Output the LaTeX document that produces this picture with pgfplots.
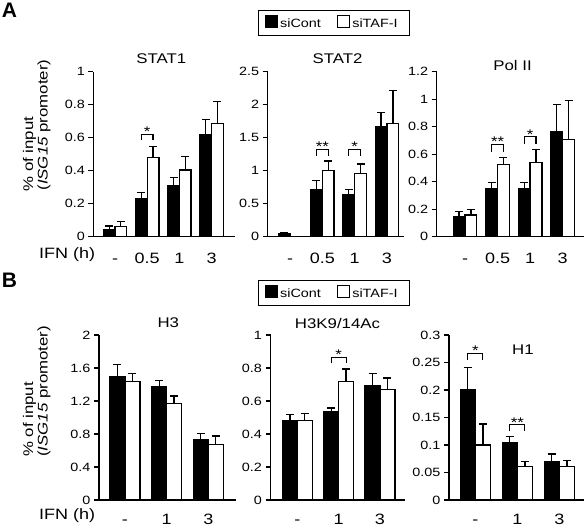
\documentclass[border=0pt]{standalone}
\usepackage{fontspec}
\setmainfont{Liberation Sans}[FakeStretch=1.2]
\newfontfamily\plainfont{Liberation Sans}
\usepackage{pgfplots}
\usepackage{pgfplotstable}
\pgfplotsset{compat=1.18}
\newcommand{\fs}[1]{\fontsize{#1bp}{#1bp}\selectfont}

\pgfplotstableread{
x c ce t te
0 0.040 0.025 0.060 0.033
1 0.232 0.037 0.481 0.066
2 0.307 0.053 0.404 0.081
3 0.616 0.095 0.687 0.131
}\statone
\pgfplotstableread{
x c ce t te
0 0.050 0.015 0.000 0.000
1 0.710 0.140 1.000 0.145
2 0.630 0.090 0.960 0.140
3 1.660 0.220 1.720 0.490
}\stattwo
\pgfplotstableread{
x c ce t te
0 0.145 0.040 0.157 0.040
1 0.350 0.045 0.525 0.050
2 0.350 0.045 0.540 0.095
3 0.765 0.195 0.705 0.285
}\polii
\pgfplotstableread{
x c ce t te
0 1.495 0.150 1.435 0.100
1 1.380 0.070 1.170 0.090
2 0.735 0.075 0.675 0.100
}\hthree
\pgfplotstableread{
x c ce t te
0 0.480 0.040 0.480 0.043
1 0.535 0.022 0.720 0.074
2 0.695 0.070 0.670 0.070
}\hac
\pgfplotstableread{
x c ce t te
0 0.200 0.041 0.100 0.038
1 0.104 0.011 0.061 0.0096
2 0.070 0.0135 0.0615 0.0098
}\hone

\tikzset{brk/.style={line width=1.1bp, black}}
\pgfplotsset{
  panel/.style={
    scale only axis, anchor=south west, clip=false,
    axis x line*=bottom, axis y line*=left,
    axis line style={line width=1.4bp, black, -},
    ymin=0, enlargelimits=false,
    major x tick style={draw=none},
    tick align=outside, major tick length=5bp,
    major y tick style={line width=1.3bp, black},
    yticklabel style={font=\fs{12}, /pgf/number format/fixed,
      /pgf/number format/precision=2, /pgf/number format/assume math mode=true},
    scaled y ticks=false,
    xticklabel style={font=\fs{15}, anchor=base},
    ybar=0pt,
    error bars/y dir=plus, error bars/y explicit,
    error bars/error bar style={line width=1.3bp, black},
    error bars/error mark options={rotate=90, line width=1.3bp, black, mark size=4bp},
    title style={font=\fs{14}, anchor=base},
  },
  rowA/.style={panel, height=165bp, xtick={0,1,2,3}, xticklabels={-,0.5,1,3},
    bar width=0.362, xticklabel style={yshift=-21.5bp}},
  rowB/.style={panel, height=165bp, xtick={0,1,2}, xticklabels={-,1,3},
    bar width=0.36, xticklabel style={yshift=-19.5bp}},
  cont/.style={fill=black, draw=black, line width=1.3bp},
  taf/.style={fill=white, draw=black, line width=1.3bp},
  sqleg/.style={legend image code/.code={\draw[##1, line width=0.9bp] (0bp,-3.5bp) rectangle (12.5bp,8.5bp);}},
  leg/.style={legend columns=2,
    legend style={draw=black, line width=0.9bp, anchor=north west, font=\fs{12},
      inner xsep=6bp, inner ysep=4.5bp,
      /tikz/every even column/.append style={column sep=10bp}}},
}

\begin{document}
\begin{tikzpicture}
\useasboundingbox (0,0) rectangle (586bp,529bp);

% ---------------- Panel A ----------------
\begin{axis}[rowA, at={(93.3bp,292.3bp)}, width=141.7bp,
  xmin=-0.674, xmax=3.727, ymax=1, ytick={0,0.2,...,1},
  title={STAT1}, title style={at={(0.48,1.0145)}}]
\addplot[cont] table[x=x,y=c,y error=ce]{\statone};
\addplot[taf] table[x=x,y=t,y error=te]{\statone};
\draw[brk] (axis cs:0.819,0.586) -- (axis cs:0.819,0.622) -- (axis cs:1.181,0.622) -- (axis cs:1.181,0.586);
\node[font=\fs{14}, anchor=base, inner sep=0, yshift=-2.5bp] at (axis cs:1,0.622) {*};
\end{axis}

\begin{axis}[rowA, at={(267.7bp,292.3bp)}, width=136.3bp,
  xmin=-0.69, xmax=3.526, ymax=2.5, ytick={0,0.5,...,2.5},
  title={STAT2}, title style={at={(0.512,1.0145)}},
  leg, legend style={at={(-0.069,1.374)}}]
\addplot[cont, sqleg] table[x=x,y=c,y error=ce]{\stattwo};
\addplot[taf, sqleg] table[x=x,y=t,y error=te]{\stattwo};
\legend{siCont\kern4bp, siTAF-I\kern4bp}
\draw[brk] (axis cs:0.819,1.222) -- (axis cs:0.819,1.324) -- (axis cs:1.181,1.324) -- (axis cs:1.181,1.222);
\node[font=\fs{14}, anchor=base, inner sep=0, yshift=-2.5bp] at (axis cs:1,1.324) {**};
\draw[brk] (axis cs:1.819,1.222) -- (axis cs:1.819,1.324) -- (axis cs:2.181,1.324) -- (axis cs:2.181,1.222);
\node[font=\fs{14}, anchor=base, inner sep=0, yshift=-2.5bp] at (axis cs:2,1.324) {*};
\end{axis}

\begin{axis}[rowA, at={(436.7bp,292.3bp)}, width=147.3bp,
  xmin=-0.869, xmax=3.654, ymax=1.2, ytick={0,0.2,...,1.2},
  title={Pol II}, title style={at={(0.515,0.97)}}]
\addplot[cont] table[x=x,y=c,y error=ce]{\polii};
\addplot[taf] table[x=x,y=t,y error=te]{\polii};
\draw[brk] (axis cs:0.819,0.618) -- (axis cs:0.819,0.672) -- (axis cs:1.181,0.672) -- (axis cs:1.181,0.618);
\node[font=\fs{14}, anchor=base, inner sep=0, yshift=-2.5bp] at (axis cs:1,0.672) {**};
\draw[brk] (axis cs:1.819,0.674) -- (axis cs:1.819,0.727) -- (axis cs:2.181,0.727) -- (axis cs:2.181,0.674);
\node[font=\fs{14}, anchor=base, inner sep=0, yshift=-2.5bp] at (axis cs:2,0.727) {*};
\end{axis}

% ---------------- Panel B ----------------
\begin{axis}[rowB, at={(99bp,29bp)}, width=137bp,
  xmin=-0.624, xmax=2.665, ymax=2, ytick={0,0.4,...,2},
  title={H3}, title style={at={(0.506,1.01)}}]
\addplot[cont] table[x=x,y=c,y error=ce]{\hthree};
\addplot[taf] table[x=x,y=t,y error=te]{\hthree};
\end{axis}

\begin{axis}[rowB, at={(270.5bp,29bp)}, width=134.5bp,
  xmin=-0.648, xmax=2.605, ymax=1, ytick={0,0.2,...,1},
  title={H3K9/14Ac}, title style={at={(0.498,1.006)}},
  leg, legend style={at={(-0.0907,1.333)}}]
\addplot[cont, sqleg] table[x=x,y=c,y error=ce]{\hac};
\addplot[taf, sqleg] table[x=x,y=t,y error=te]{\hac};
\legend{siCont\kern4bp, siTAF-I\kern4bp}
\draw[brk] (axis cs:0.82,0.828) -- (axis cs:0.82,0.865) -- (axis cs:1.18,0.865) -- (axis cs:1.18,0.828);
\node[font=\fs{14}, anchor=base, inner sep=0, yshift=-2.5bp] at (axis cs:1,0.865) {*};
\end{axis}

\begin{axis}[rowB, at={(449bp,29bp)}, width=135bp,
  xmin=-0.626, xmax=2.588, ymax=0.3, ytick={0,0.05,...,0.3},
  title={H1}, title style={at={(0.548,0.844)}}]
\addplot[cont] table[x=x,y=c,y error=ce]{\hone};
\addplot[taf] table[x=x,y=t,y error=te]{\hone};
\draw[brk] (axis cs:-0.18,0.2545) -- (axis cs:-0.18,0.2667) -- (axis cs:0.18,0.2667) -- (axis cs:0.18,0.2545);
\node[font=\fs{14}, anchor=base, inner sep=0, yshift=-2.5bp] at (axis cs:0,0.2667) {*};
\draw[brk] (axis cs:0.82,0.125) -- (axis cs:0.82,0.137) -- (axis cs:1.18,0.137) -- (axis cs:1.18,0.125);
\node[font=\fs{14}, anchor=base, inner sep=0, yshift=-2.5bp] at (axis cs:1,0.137) {**};
\end{axis}

% ---------------- Labels ----------------
\node[anchor=north west, inner sep=0, font={\plainfont\bfseries\fontsize{21bp}{21bp}\selectfont}] at (1.7bp,525.7bp) {A};
\node[anchor=north west, inner sep=0, font={\plainfont\bfseries\fontsize{21bp}{21bp}\selectfont}] at (1.7bp,255.7bp) {B};

\node[rotate=90, anchor=base west, inner sep=0, font=\fs{14}] at (33bp,337.3bp) {\% of input};
\node[rotate=90, anchor=base west, inner sep=0, font=\fs{14}] at (47.5bp,338.3bp) {(\textit{ISG15} promoter)};
\node[rotate=90, anchor=base west, inner sep=0, font=\fs{14}] at (33bp,72bp) {\% of input};
\node[rotate=90, anchor=base west, inner sep=0, font=\fs{14}] at (47.5bp,72bp) {(\textit{ISG15} promoter)};

\node[anchor=base west, inner sep=0, font=\fs{15}] at (39bp,270.7bp) {IFN (h)};
\node[anchor=base west, inner sep=0, font=\fs{15}] at (39bp,9.5bp) {IFN (h)};
\end{tikzpicture}
\end{document}
